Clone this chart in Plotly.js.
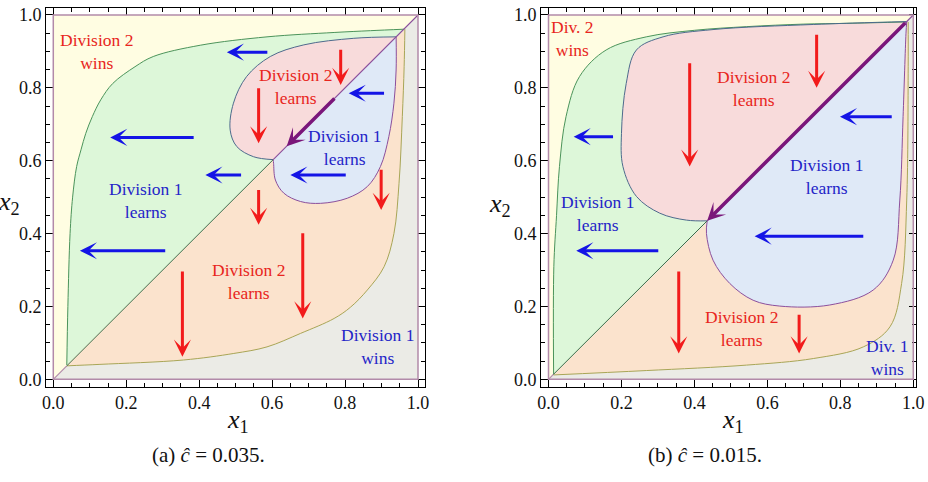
<!DOCTYPE html>
<html>
<head>
<meta charset="utf-8">
<script src="https://cdn.plot.ly/plotly-3.0.1.min.js"></script>
<style>
  html, body { margin: 0; padding: 0; background: #ffffff; }
  #chart { width: 928px; height: 482px; }
</style>
</head>
<body>
<div id="chart"></div>
<script>
// ---------- panel (a): c = 0.035 ----------
// boundary of the "Division 1 learns" zone above the diagonal (green)
const aGreenX = [0.037, 0.040, 0.046, 0.053, 0.064, 0.076, 0.089, 0.107, 0.130, 0.163, 0.224, 0.274, 0.403, 0.586, 0.770, 0.870, 0.962];
const aGreenY = [0.039, 0.200, 0.400, 0.500, 0.584, 0.630, 0.675, 0.721, 0.767, 0.812, 0.858, 0.886, 0.917, 0.940, 0.952, 0.957, 0.961];
// boundary of the "Division 2 learns" zone below the diagonal (orange)
const aOrangeX = [0.037, 0.128, 0.357, 0.495, 0.586, 0.678, 0.770, 0.815, 0.861, 0.907, 0.934, 0.948, 0.957, 0.962, 0.964];
const aOrangeY = [0.037, 0.041, 0.053, 0.071, 0.089, 0.126, 0.167, 0.198, 0.245, 0.309, 0.400, 0.538, 0.721, 0.858, 0.961];
// upper lobe: Division 2 learns (pink)
const aPinkX = [0.940, 0.824, 0.687, 0.595, 0.530, 0.494, 0.485, 0.503, 0.549, 0.603];
const aPinkY = [0.940, 0.936, 0.918, 0.886, 0.831, 0.758, 0.684, 0.639, 0.611, 0.603];
// lower lobe: Division 1 learns (blue)
const aBlueX = [0.603, 0.604, 0.609, 0.632, 0.678, 0.733, 0.806, 0.861, 0.897, 0.920, 0.934, 0.940, 0.940];
const aBlueY = [0.603, 0.593, 0.547, 0.511, 0.488, 0.483, 0.497, 0.529, 0.584, 0.666, 0.758, 0.849, 0.940];
// leftward moves [tailX, headX, y]
const aLeftArrows = [[0.591, 0.476, 0.898], [0.389, 0.156, 0.664], [0.519, 0.417, 0.561], [0.311, 0.073, 0.353], [0.911, 0.810, 0.785], [0.806, 0.650, 0.561]];
// downward moves [x, tailY, headY]
const aDownArrows = [[0.788, 0.909, 0.808], [0.563, 0.803, 0.648], [0.563, 0.524, 0.424], [0.899, 0.579, 0.465], [0.684, 0.405, 0.167], [0.354, 0.300, 0.062]];
// motion along the diagonal [tail, head]
const aDiagArrow = [0.775, 0.640];
const aLabels = ["Division 2<br>wins", "Division 2<br>learns", "Division 1<br>learns", "Division 1<br>learns", "Division 2<br>learns", "Division 1<br>wins"];
const aLabelX = [0.119, 0.664, 0.799, 0.254, 0.536, 0.888];
const aLabelY = [0.900, 0.803, 0.636, 0.492, 0.268, 0.091];
const aLabelColor = ["red", "red", "blue", "blue", "red", "blue"];

// ---------- panel (b): c = 0.015 ----------
const bGreenX = [0.014, 0.0146, 0.022, 0.030, 0.048, 0.085, 0.158, 0.268, 0.400, 0.543, 0.700, 0.817, 0.982];
const bGreenY = [0.012, 0.309, 0.450, 0.584, 0.721, 0.831, 0.904, 0.940, 0.958, 0.968, 0.975, 0.977, 0.981];
const bOrangeX = [0.014, 0.268, 0.543, 0.726, 0.863, 0.936, 0.968, 0.982, 0.986, 0.986];
const bOrangeY = [0.012, 0.024, 0.039, 0.057, 0.089, 0.144, 0.263, 0.492, 0.858, 0.981];
const bPinkX = [0.982, 0.726, 0.451, 0.314, 0.241, 0.213, 0.200, 0.204, 0.241, 0.305, 0.378, 0.435];
const bPinkY = [0.982, 0.974, 0.960, 0.940, 0.904, 0.812, 0.675, 0.584, 0.502, 0.456, 0.437, 0.435];
const bBlueX = [0.435, 0.433, 0.451, 0.497, 0.561, 0.634, 0.771, 0.890, 0.945, 0.963, 0.972, 0.980, 0.982];
const bBlueY = [0.435, 0.400, 0.327, 0.263, 0.217, 0.201, 0.204, 0.245, 0.327, 0.492, 0.721, 0.950, 0.982];
const bLeftArrows = [[0.181, 0.069, 0.666], [0.305, 0.076, 0.353], [0.945, 0.799, 0.721], [0.867, 0.565, 0.393]];
const bDownArrows = [[0.735, 0.950, 0.800], [0.387, 0.872, 0.584], [0.357, 0.300, 0.071], [0.687, 0.181, 0.071]];
const bDiagArrow = [0.982, 0.435];
const bLabels = ["Div. 2<br>wins", "Division 2<br>learns", "Division 1<br>learns", "Division 1<br>learns", "Division 2<br>learns", "Div. 1<br>wins"];
const bLabelX = [0.067, 0.561, 0.762, 0.135, 0.529, 0.929];
const bLabelY = [0.936, 0.799, 0.558, 0.454, 0.140, 0.060];
const bLabelColor = ["red", "red", "blue", "blue", "red", "blue"];

const majorTicks = [0, 0.2, 0.4, 0.6, 0.8, 1.0];
const captions = ["(a) <i>ĉ</i> = 0.035.", "(b) <i>ĉ</i> = 0.015."];

// ---------- styling ----------
const FONT = "'Liberation Serif', 'DejaVu Serif', serif";
const COL = {
  yellow: "#fffde2", gray: "#ebebe6", green: "#ddf7d9", orange: "#fbe3cd",
  pink: "#f8dbdb", blue: "#dfe9f7",
  greenLine: "#4b935a", orangeLine: "#a8a556", pinkLine: "#4d6a8c",
  blueLine: "#8b4f9c", diagLine: "#3f6b48", frame: "#b28aa9",
  redArrow: "#f21b1b", blueArrow: "#1414e6", purpleArrow: "#7a167a",
  redText: "#e82520", blueText: "#2424c8"
};

const traces = [];
const annotations = [];
const shapes = [];

// smooth closed region; the closing segment (last point back to first) runs along the diagonal
function fillPoly(xs, ys, color, xa, ya, smooth) {
  traces.push({
    type: "scatter", mode: "lines", x: xs, y: ys, xaxis: xa, yaxis: ya,
    fill: "toself", fillcolor: color,
    line: { width: 0, color: color, shape: smooth ? "spline" : "linear", smoothing: 1 },
    hoverinfo: "skip", showlegend: false
  });
}
function strokeLine(xs, ys, color, width, xa, ya, smooth) {
  traces.push({
    type: "scatter", mode: "lines", x: xs, y: ys, xaxis: xa, yaxis: ya,
    line: { width: width, color: color, shape: smooth ? "spline" : "linear", smoothing: 1 },
    hoverinfo: "skip", showlegend: false
  });
}

function buildPanel(p, xa, ya) {
  const g0 = p.greenX[0];
  const junction = p.pinkX[p.pinkX.length - 1];
  // background triangles on either side of the diagonal
  fillPoly([0, 0, 1], [0, 1, 1], COL.yellow, xa, ya, false);
  fillPoly([0, 1, 1], [0, 0, 1], COL.gray, xa, ya, false);
  // regions bounded by a curve and the diagonal x2 = x1
  fillPoly(p.greenX, p.greenY, COL.green, xa, ya, true);
  fillPoly(p.orangeX, p.orangeY, COL.orange, xa, ya, true);
  fillPoly(p.pinkX, p.pinkY, COL.pink, xa, ya, true);
  fillPoly(p.blueX, p.blueY, COL.blue, xa, ya, true);
  // boundaries
  strokeLine(p.greenX, p.greenY, COL.greenLine, 1, xa, ya, true);
  strokeLine(p.orangeX, p.orangeY, COL.orangeLine, 1, xa, ya, true);
  strokeLine(p.pinkX, p.pinkY, COL.pinkLine, 1, xa, ya, true);
  strokeLine(p.blueX, p.blueY, COL.blueLine, 1, xa, ya, true);
  strokeLine([0, g0], [0, g0], COL.frame, 1.2, xa, ya, false);
  strokeLine([g0, junction], [g0, junction], COL.diagLine, 1, xa, ya, false);
  strokeLine([junction, 1], [junction, 1], COL.blueLine, 1.1, xa, ya, false);

  // unit-square frame
  shapes.push({
    type: "rect", xref: xa, yref: ya, x0: 0, x1: 1, y0: 0, y1: 1,
    line: { color: COL.frame, width: 1.5 }, layer: "above"
  });

  const arrowBase = { showarrow: true, text: "", arrowhead: 3, arrowsize: 0.95, arrowwidth: 3,
    xref: xa, yref: ya, axref: xa, ayref: ya, standoff: 0, startstandoff: 0 };
  p.leftArrows.forEach(a => annotations.push(Object.assign({}, arrowBase, {
    x: a[1], y: a[2], ax: a[0], ay: a[2], arrowcolor: COL.blueArrow })));
  p.downArrows.forEach(a => annotations.push(Object.assign({}, arrowBase, {
    x: a[0], y: a[2], ax: a[0], ay: a[1], arrowcolor: COL.redArrow })));
  annotations.push(Object.assign({}, arrowBase, {
    x: p.diag[1], y: p.diag[1], ax: p.diag[0], ay: p.diag[0],
    arrowcolor: COL.purpleArrow, arrowwidth: 3.5, arrowsize: 0.85 }));

  p.labels.forEach((t, i) => annotations.push({
    text: t, x: p.labelX[i], y: p.labelY[i], xref: xa, yref: ya, showarrow: false,
    font: { family: FONT, size: 17.5, color: p.labelColor[i] === "red" ? COL.redText : COL.blueText }
  }));
}

buildPanel({ greenX: aGreenX, greenY: aGreenY, orangeX: aOrangeX, orangeY: aOrangeY,
  pinkX: aPinkX, pinkY: aPinkY, blueX: aBlueX, blueY: aBlueY,
  leftArrows: aLeftArrows, downArrows: aDownArrows, diag: aDiagArrow,
  labels: aLabels, labelX: aLabelX, labelY: aLabelY, labelColor: aLabelColor }, "x", "y");
buildPanel({ greenX: bGreenX, greenY: bGreenY, orangeX: bOrangeX, orangeY: bOrangeY,
  pinkX: bPinkX, pinkY: bPinkY, blueX: bBlueX, blueY: bBlueY,
  leftArrows: bLeftArrows, downArrows: bDownArrows, diag: bDiagArrow,
  labels: bLabels, labelX: bLabelX, labelY: bLabelY, labelColor: bLabelColor }, "x2", "y2");

// axis titles and captions, placed in page coordinates
const W = 928, H = 482;
function pageText(text, px, py, size) {
  annotations.push({ text: text, xref: "paper", yref: "paper", x: px / W, y: 1 - py / H,
    showarrow: false, xanchor: "center", yanchor: "middle",
    font: { family: FONT, size: size, color: "#111111" } });
}
pageText("<i>x</i><sub>2</sub>", 9, 203, 26);
pageText("<i>x</i><sub>2</sub>", 500, 205, 26);
pageText("<i>x</i><sub>1</sub>", 238, 421, 26);
pageText("<i>x</i><sub>1</sub>", 733, 421, 26);
pageText(captions[0], 208, 455, 21);
pageText(captions[1], 705, 455, 21);

function axisStyle(domain, range, anchor) {
  return {
    domain: domain, range: range, anchor: anchor,
    showgrid: false, zeroline: false, showline: true, linecolor: "#000000", linewidth: 1,
    mirror: "allticks", ticks: "inside", ticklen: 7, tickwidth: 1, tickcolor: "#000000",
    tickvals: majorTicks, tickformat: ".1f",
    minor: { dtick: 0.05, tick0: 0, ticks: "inside", ticklen: 4, tickwidth: 1, tickcolor: "#000000" },
    tickfont: { family: FONT, size: 18, color: "#111111" }, fixedrange: true
  };
}
const yDom = [(H - 386.7) / H, (H - 8) / H];
const layout = {
  width: W, height: H, margin: { l: 0, r: 0, t: 0, b: 0 },
  paper_bgcolor: "#ffffff", plot_bgcolor: "#ffffff", showlegend: false,
  font: { family: FONT },
  xaxis: axisStyle([46 / W, 425 / W], [-0.0200, 1.0192], "y"),
  yaxis: axisStyle(yDom, [-0.0203, 1.0192], "x"),
  xaxis2: axisStyle([541 / W, 915.7 / W], [-0.0206, 1.0066], "y2"),
  yaxis2: axisStyle(yDom, [-0.0203, 1.0192], "x2"),
  annotations: annotations, shapes: shapes
};

Plotly.newPlot("chart", traces, layout, { displayModeBar: false, staticPlot: true });
</script>
</body>
</html>
